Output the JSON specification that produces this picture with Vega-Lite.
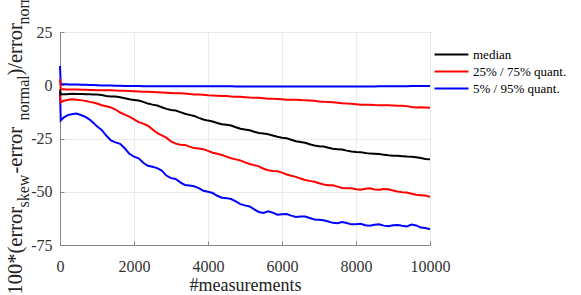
{
  "$schema": "https://vega.github.io/schema/vega-lite/v6.json",
  "width": 370,
  "height": 213,
  "autosize": {"type": "none"},
  "padding": {"left": 60, "top": 32, "right": 151, "bottom": 50},
  "background": "white",
  "config": {
    "font": "Liberation Serif",
    "view": {"stroke": "#868686", "strokeWidth": 1},
    "axis": {
      "domainColor": "#868686",
      "tickColor": "#868686",
      "gridColor": "#ebebeb",
      "labelColor": "#333333",
      "titleColor": "#222222",
      "labelFont": "Liberation Serif",
      "titleFont": "Liberation Serif",
      "titleFontWeight": "normal"
    },
    "legend": {"labelFont": "Liberation Serif"}
  },
  "datasets": {
    "groups": [
      {"series": "median", "group": "median"},
      {"series": "q75", "group": "25% / 75% quant."},
      {"series": "q25", "group": "25% / 75% quant."},
      {"series": "q95", "group": "5% / 95% quant."},
      {"series": "q5", "group": "5% / 95% quant."}
    ]
  },
  "data": {
    "values": [
      {"x": 0, "median": -2, "q75": 3, "q25": -4, "q95": 9, "q5": -3},
      {"x": 20, "median": -4.3, "q75": -1.9, "q25": -8.0, "q95": 0.6, "q5": -16.5},
      {"x": 100, "median": -4.2, "q75": -1.9, "q25": -7.3, "q95": 0.5, "q5": -15.2},
      {"x": 175, "median": -4.2, "q75": -2.0, "q25": -7.0, "q95": 0.5, "q5": -14.4},
      {"x": 250, "median": -4.1, "q75": -2.0, "q25": -6.7, "q95": 0.4, "q5": -13.8},
      {"x": 350, "median": -4.0, "q75": -2.0, "q25": -6.6, "q95": 0.4, "q5": -13.5},
      {"x": 450, "median": -4.1, "q75": -2.0, "q25": -6.8, "q95": 0.3, "q5": -13.3},
      {"x": 600, "median": -4.1, "q75": -2.1, "q25": -7.1, "q95": 0.2, "q5": -14.2},
      {"x": 700, "median": -4.2, "q75": -2.1, "q25": -7.4, "q95": 0.2, "q5": -15.0},
      {"x": 800, "median": -4.2, "q75": -2.2, "q25": -7.8, "q95": 0.1, "q5": -16.1},
      {"x": 900, "median": -4.3, "q75": -2.2, "q25": -8.1, "q95": 0.1, "q5": -17.6},
      {"x": 1000, "median": -4.4, "q75": -2.3, "q25": -8.6, "q95": 0.0, "q5": -19.3},
      {"x": 1125, "median": -4.6, "q75": -2.4, "q25": -9.4, "q95": -0.1, "q5": -21.0},
      {"x": 1250, "median": -5.0, "q75": -2.4, "q25": -9.9, "q95": -0.1, "q5": -23.6},
      {"x": 1375, "median": -5.3, "q75": -2.4, "q25": -10.4, "q95": -0.1, "q5": -25.9},
      {"x": 1500, "median": -5.3, "q75": -2.5, "q25": -11.4, "q95": -0.2, "q5": -26.8},
      {"x": 1625, "median": -5.6, "q75": -2.6, "q25": -12.8, "q95": -0.2, "q5": -27.5},
      {"x": 1750, "median": -6.1, "q75": -2.6, "q25": -13.8, "q95": -0.3, "q5": -29.6},
      {"x": 1875, "median": -6.6, "q75": -2.7, "q25": -14.7, "q95": -0.3, "q5": -32.2},
      {"x": 2000, "median": -6.9, "q75": -2.8, "q25": -16.0, "q95": -0.4, "q5": -33.5},
      {"x": 2125, "median": -7.2, "q75": -2.9, "q25": -17.3, "q95": -0.4, "q5": -34.3},
      {"x": 2250, "median": -7.8, "q75": -3.0, "q25": -18.0, "q95": -0.5, "q5": -36.4},
      {"x": 2375, "median": -8.6, "q75": -3.1, "q25": -19.0, "q95": -0.5, "q5": -37.8},
      {"x": 2500, "median": -9.1, "q75": -3.2, "q25": -20.7, "q95": -0.5, "q5": -38.3},
      {"x": 2625, "median": -9.5, "q75": -3.3, "q25": -22.4, "q95": -0.5, "q5": -38.9},
      {"x": 2750, "median": -10.3, "q75": -3.4, "q25": -23.5, "q95": -0.5, "q5": -40.1},
      {"x": 2875, "median": -11.1, "q75": -3.5, "q25": -24.6, "q95": -0.5, "q5": -42.4},
      {"x": 3000, "median": -11.6, "q75": -3.6, "q25": -26.4, "q95": -0.5, "q5": -43.6},
      {"x": 3125, "median": -11.9, "q75": -3.7, "q25": -27.4, "q95": -0.5, "q5": -44.0},
      {"x": 3250, "median": -12.6, "q75": -3.8, "q25": -27.9, "q95": -0.5, "q5": -45.6},
      {"x": 3375, "median": -13.4, "q75": -3.9, "q25": -28.0, "q95": -0.5, "q5": -46.8},
      {"x": 3500, "median": -13.9, "q75": -4.1, "q25": -28.8, "q95": -0.5, "q5": -47.1},
      {"x": 3625, "median": -14.4, "q75": -4.3, "q25": -29.5, "q95": -0.5, "q5": -47.4},
      {"x": 3750, "median": -15.3, "q75": -4.4, "q25": -29.7, "q95": -0.5, "q5": -48.3},
      {"x": 3875, "median": -16.1, "q75": -4.5, "q25": -30.0, "q95": -0.5, "q5": -49.5},
      {"x": 4000, "median": -16.6, "q75": -4.7, "q25": -30.8, "q95": -0.5, "q5": -50.0},
      {"x": 4125, "median": -17.0, "q75": -4.8, "q25": -31.7, "q95": -0.5, "q5": -50.6},
      {"x": 4250, "median": -17.7, "q75": -4.9, "q25": -32.2, "q95": -0.5, "q5": -51.9},
      {"x": 4375, "median": -18.3, "q75": -5.0, "q25": -32.7, "q95": -0.5, "q5": -52.8},
      {"x": 4500, "median": -18.5, "q75": -5.1, "q25": -33.5, "q95": -0.5, "q5": -53.0},
      {"x": 4625, "median": -18.9, "q75": -5.3, "q25": -34.3, "q95": -0.5, "q5": -53.4},
      {"x": 4750, "median": -19.7, "q75": -5.4, "q25": -34.8, "q95": -0.6, "q5": -54.5},
      {"x": 4875, "median": -20.4, "q75": -5.4, "q25": -35.3, "q95": -0.6, "q5": -55.8},
      {"x": 5000, "median": -20.8, "q75": -5.6, "q25": -36.2, "q95": -0.6, "q5": -56.4},
      {"x": 5125, "median": -21.1, "q75": -5.8, "q25": -37.0, "q95": -0.6, "q5": -56.9},
      {"x": 5250, "median": -21.8, "q75": -5.9, "q25": -37.5, "q95": -0.6, "q5": -58.3},
      {"x": 5375, "median": -22.4, "q75": -5.9, "q25": -38.1, "q95": -0.6, "q5": -59.5},
      {"x": 5500, "median": -22.7, "q75": -6.1, "q25": -39.2, "q95": -0.6, "q5": -60.0},
      {"x": 5625, "median": -23.0, "q75": -6.3, "q25": -39.9, "q95": -0.6, "q5": -59.2},
      {"x": 5750, "median": -23.6, "q75": -6.3, "q25": -40.3, "q95": -0.6, "q5": -59.8},
      {"x": 5875, "median": -24.2, "q75": -6.4, "q25": -40.4, "q95": -0.6, "q5": -60.8},
      {"x": 6000, "median": -24.6, "q75": -6.6, "q25": -41.0, "q95": -0.6, "q5": -60.6},
      {"x": 6125, "median": -24.9, "q75": -6.8, "q25": -41.9, "q95": -0.6, "q5": -60.5},
      {"x": 6250, "median": -25.6, "q75": -6.8, "q25": -42.5, "q95": -0.6, "q5": -61.2},
      {"x": 6375, "median": -26.3, "q75": -6.8, "q25": -43.0, "q95": -0.6, "q5": -61.8},
      {"x": 6500, "median": -26.6, "q75": -6.9, "q25": -43.8, "q95": -0.6, "q5": -61.6},
      {"x": 6625, "median": -27.0, "q75": -7.1, "q25": -44.5, "q95": -0.6, "q5": -61.6},
      {"x": 6750, "median": -27.7, "q75": -7.2, "q25": -44.9, "q95": -0.6, "q5": -62.3},
      {"x": 6875, "median": -28.3, "q75": -7.3, "q25": -45.3, "q95": -0.6, "q5": -63.0},
      {"x": 7000, "median": -28.6, "q75": -7.6, "q25": -46.0, "q95": -0.6, "q5": -63.2},
      {"x": 7125, "median": -28.8, "q75": -7.8, "q25": -46.6, "q95": -0.6, "q5": -63.4},
      {"x": 7250, "median": -29.3, "q75": -7.9, "q25": -46.9, "q95": -0.6, "q5": -64.0},
      {"x": 7375, "median": -29.8, "q75": -8.0, "q25": -47.0, "q95": -0.6, "q5": -64.6},
      {"x": 7500, "median": -30.0, "q75": -8.2, "q25": -47.6, "q95": -0.6, "q5": -64.8},
      {"x": 7625, "median": -30.2, "q75": -8.5, "q25": -48.2, "q95": -0.6, "q5": -64.2},
      {"x": 7750, "median": -30.7, "q75": -8.6, "q25": -48.4, "q95": -0.6, "q5": -64.7},
      {"x": 7875, "median": -31.1, "q75": -8.7, "q25": -48.4, "q95": -0.6, "q5": -65.3},
      {"x": 8000, "median": -31.3, "q75": -8.9, "q25": -48.8, "q95": -0.6, "q5": -65.3},
      {"x": 8125, "median": -31.4, "q75": -9.1, "q25": -49.0, "q95": -0.6, "q5": -65.0},
      {"x": 8250, "median": -31.8, "q75": -9.1, "q25": -48.6, "q95": -0.6, "q5": -65.7},
      {"x": 8375, "median": -32.1, "q75": -9.1, "q25": -48.4, "q95": -0.6, "q5": -66.0},
      {"x": 8500, "median": -32.2, "q75": -9.3, "q25": -48.9, "q95": -0.6, "q5": -65.5},
      {"x": 8625, "median": -32.3, "q75": -9.4, "q25": -49.1, "q95": -0.5, "q5": -65.3},
      {"x": 8750, "median": -32.6, "q75": -9.4, "q25": -48.7, "q95": -0.5, "q5": -65.9},
      {"x": 8875, "median": -32.9, "q75": -9.4, "q25": -48.8, "q95": -0.5, "q5": -66.2},
      {"x": 9000, "median": -33.1, "q75": -9.5, "q25": -49.4, "q95": -0.5, "q5": -65.7},
      {"x": 9125, "median": -33.1, "q75": -9.6, "q25": -49.9, "q95": -0.5, "q5": -65.6},
      {"x": 9250, "median": -33.3, "q75": -9.6, "q25": -50.2, "q95": -0.5, "q5": -66.0},
      {"x": 9375, "median": -33.5, "q75": -9.8, "q25": -50.4, "q95": -0.5, "q5": -66.3},
      {"x": 9500, "median": -33.6, "q75": -10.2, "q25": -50.9, "q95": -0.4, "q5": -65.4},
      {"x": 9625, "median": -33.8, "q75": -10.4, "q25": -51.4, "q95": -0.4, "q5": -65.8},
      {"x": 9750, "median": -34.2, "q75": -10.3, "q25": -51.6, "q95": -0.4, "q5": -66.8},
      {"x": 9875, "median": -34.6, "q75": -10.4, "q25": -51.8, "q95": -0.4, "q5": -67.0},
      {"x": 10000, "median": -34.8, "q75": -10.6, "q25": -52.4, "q95": -0.4, "q5": -67.6}
    ]
  },
  "transform": [
    {"fold": ["q5", "q95", "q25", "q75", "median"], "as": ["series", "v"]},
    {"lookup": "series", "from": {"data": {"name": "groups"}, "key": "series", "fields": ["group"]}}
  ],
  "layer": [
    {
      "mark": {"type": "line", "interpolate": "linear"},
      "encoding": {
        "x": {
          "field": "x", "type": "quantitative",
          "scale": {"domain": [0, 10000], "nice": false, "zero": false},
          "axis": {
            "values": [0, 2000, 4000, 6000, 8000, 10000],
            "labelExpr": "datum.value + ''",
            "title": "#measurements",
            "titleFont": "Liberation Serif",
            "titleFontSize": 18,
            "titleY": 45,
            "titleBaseline": "alphabetic",
            "labelFont": "Liberation Serif",
            "labelFontSize": 16,
            "labelPadding": 17,
            "tickSize": -4,
            "labelFlush": false
          }
        },
        "y": {
          "field": "v", "type": "quantitative",
          "scale": {"domain": [-75, 25], "nice": false, "zero": false},
          "axis": {
            "orient": "left",
            "values": [-75, -50, -25, 0, 25],
            "labelExpr": "datum.value + ''",
            "labelFont": "Liberation Serif",
            "labelFontSize": 16,
            "labelPadding": 12,
            "tickSize": -4,
            "title": "100*(error",
            "titleFont": "Liberation Serif",
            "titleFontSize": 20.5,
            "titleAngle": -90,
            "titleAlign": "left",
            "titleBaseline": "alphabetic",
            "titleX": -39,
            "titleY": 262
          }
        },
        "color": {
          "field": "group", "type": "nominal",
          "scale": {"domain": ["median", "25% / 75% quant.", "5% / 95% quant."], "range": ["#000000", "#ff0000", "#0000ff"]},
          "legend": {
            "title": null,
            "orient": "none",
            "legendX": 385,
            "legendY": 16,
            "symbolType": "M-4,0H4",
            "symbolSize": 72,
            "labelFont": "Liberation Serif",
            "labelFontSize": 13,
            "labelColor": "#000000",
            "labelOffset": 15,
            "rowPadding": 3
          }
        },
        "strokeWidth": {
          "field": "group", "type": "ordinal",
          "scale": {"domain": ["median", "25% / 75% quant.", "5% / 95% quant."], "range": [2, 2, 1.2]}
        },
        "detail": {"field": "series"}
      }
    },
    {
      "transform": [{"filter": "datum.x === 10000 && datum.series === 'median'"}],
      "mark": {"type": "point", "opacity": 0},
      "encoding": {
        "x": {"field": "x", "type": "quantitative"},
        "y": {"field": "v", "type": "quantitative", "axis": {"orient": "left", "labels": false, "ticks": false, "domain": false, "grid": false, "title": "skew", "titleFont": "Liberation Serif", "titleFontSize": 16, "titleAngle": -90, "titleAlign": "left", "titleBaseline": "alphabetic", "titleX": -32, "titleY": 175}}
      }
    },
    {
      "transform": [{"filter": "datum.x === 10000 && datum.series === 'median'"}],
      "mark": {"type": "point", "opacity": 0},
      "encoding": {
        "x": {"field": "x", "type": "quantitative"},
        "y": {"field": "v", "type": "quantitative", "axis": {"orient": "left", "labels": false, "ticks": false, "domain": false, "grid": false, "title": "-error", "titleFont": "Liberation Serif", "titleFontSize": 20.5, "titleAngle": -90, "titleAlign": "left", "titleBaseline": "alphabetic", "titleX": -39, "titleY": 141}}
      }
    },
    {
      "transform": [{"filter": "datum.x === 10000 && datum.series === 'median'"}],
      "mark": {"type": "point", "opacity": 0},
      "encoding": {
        "x": {"field": "x", "type": "quantitative"},
        "y": {"field": "v", "type": "quantitative", "axis": {"orient": "left", "labels": false, "ticks": false, "domain": false, "grid": false, "title": "normal", "titleFont": "Liberation Serif", "titleFontSize": 16, "titleAngle": -90, "titleAlign": "left", "titleBaseline": "alphabetic", "titleX": -32, "titleY": 88}}
      }
    },
    {
      "transform": [{"filter": "datum.x === 10000 && datum.series === 'median'"}],
      "mark": {"type": "point", "opacity": 0},
      "encoding": {
        "x": {"field": "x", "type": "quantitative"},
        "y": {"field": "v", "type": "quantitative", "axis": {"orient": "left", "labels": false, "ticks": false, "domain": false, "grid": false, "title": ")/error", "titleFont": "Liberation Serif", "titleFontSize": 20.5, "titleAngle": -90, "titleAlign": "left", "titleBaseline": "alphabetic", "titleX": -39, "titleY": 43}}
      }
    },
    {
      "transform": [{"filter": "datum.x === 10000 && datum.series === 'median'"}],
      "mark": {"type": "point", "opacity": 0},
      "encoding": {
        "x": {"field": "x", "type": "quantitative"},
        "y": {"field": "v", "type": "quantitative", "axis": {"orient": "left", "labels": false, "ticks": false, "domain": false, "grid": false, "title": "normal", "titleFont": "Liberation Serif", "titleFontSize": 16, "titleAngle": -90, "titleAlign": "left", "titleBaseline": "alphabetic", "titleX": -32, "titleY": -8}}
      }
    }
  ],
  "resolve": {"axis": {"y": "independent"}}
}
